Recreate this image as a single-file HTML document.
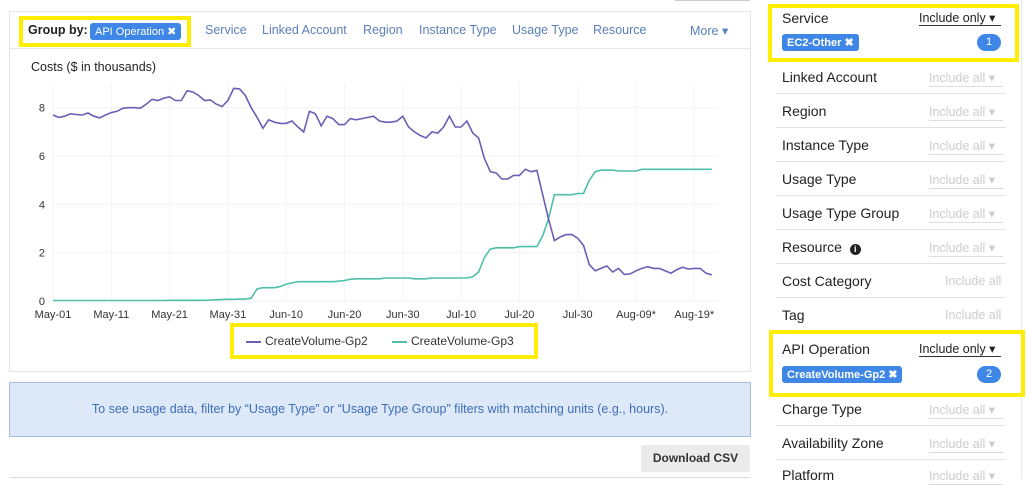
<!DOCTYPE html>
<html><head><meta charset="utf-8">
<style>
*{box-sizing:border-box}
body{margin:0;width:1027px;height:479px;overflow:hidden;background:#fff;font-family:"Liberation Sans",sans-serif;position:relative}
.abs{position:absolute}
.yel{position:absolute;border:4px solid #ffee00}
.tab{position:absolute;top:23px;font-size:12.5px;color:#5b7fb8}
.rl{position:absolute;left:782px;font-size:14px;color:#222}
.inc{position:absolute;left:929px;width:74px;font-size:12.5px;color:#ccc;border-bottom:1px solid #ddd;padding-bottom:1px}
.sep{position:absolute;left:776px;width:230px;height:1px;background:#e2e2e2}
.chip{position:absolute;background:#3f87e6;color:#fff;font-size:11px;border-radius:3px;padding:2px 5px;font-weight:bold}
.badge{position:absolute;left:977px;width:24px;height:17px;border-radius:9px;background:#3f87e6;color:#fff;font-size:11px;text-align:center;line-height:17px}
</style></head><body>
<div class="abs" style="left:675px;top:-4px;width:75px;height:5px;background:#eee;border:1px solid #ccc"></div>
<div class="abs" style="left:9px;top:11px;width:742px;height:361px;border:1px solid #e3e3e3"></div>
<div class="abs" style="left:10px;top:48px;width:740px;height:1px;background:#e8e8e8"></div>
<div class="yel" style="left:19px;top:16px;width:172px;height:31px"></div>
<div class="abs" style="left:28px;top:23px;font-size:12.5px;font-weight:bold;color:#222">Group by:</div>
<div class="chip" style="left:90px;top:23px;font-weight:normal;font-size:11px">API Operation ✖</div>
<div class="tab" style="left:205px">Service</div>
<div class="tab" style="left:262px">Linked Account</div>
<div class="tab" style="left:363px">Region</div>
<div class="tab" style="left:419px">Instance Type</div>
<div class="tab" style="left:512px">Usage Type</div>
<div class="tab" style="left:593px">Resource</div>
<div class="tab" style="left:690px">More ▾</div>
<div class="abs" style="left:31px;top:60px;font-size:12.5px;color:#222">Costs ($ in thousands)</div>

<svg class="abs" style="left:0;top:0" width="760" height="330">
<g id="grid"></g><g id="lines"></g><g id="labels" font-family="Liberation Sans" font-size="11" fill="#333"></g>
</svg>

<div class="yel" style="left:230px;top:323px;width:308px;height:36px"></div>
<div class="abs" style="left:246px;top:334px;font-size:12px;color:#333"><span style="display:inline-block;width:15px;height:2px;background:#6b5fb5;vertical-align:middle;margin-right:4px"></span>CreateVolume-Gp2</div>
<div class="abs" style="left:392px;top:334px;font-size:12px;color:#333"><span style="display:inline-block;width:15px;height:2px;background:#4fc0a8;vertical-align:middle;margin-right:4px"></span>CreateVolume-Gp3</div>

<div class="abs" style="left:9px;top:382px;width:742px;height:55px;background:#dde8f9;border:1px solid #a9bfe0;font-size:12.5px;color:#3e6fb5;text-align:center;line-height:53px">To see usage data, filter by “Usage Type” or “Usage Type Group” filters with matching units (e.g., hours).</div>
<div class="abs" style="left:641px;top:445px;width:109px;height:27px;background:#ebebeb;border-radius:2px;font-size:12px;font-weight:bold;color:#333;text-align:center;line-height:26px">Download CSV</div>
<div class="abs" style="left:10px;top:477px;width:740px;height:1px;background:#ddd"></div>

<div class="abs" style="left:1021px;top:0;width:1px;height:479px;background:#e8e8e8"></div>
<div class="yel" style="left:768px;top:4px;width:251px;height:58px"></div>
<div class="rl" style="top:10px">Service</div>
<div class="abs" style="left:919px;top:10px;font-size:12.5px;color:#222;border-bottom:1px solid #333;width:82px">Include only ▾</div>
<div class="chip" style="left:782px;top:34px">EC2-Other ✖</div>
<div class="badge" style="top:34px">1</div>
<div id="rows"></div>
<div class="yel" style="left:769px;top:330px;width:256px;height:67px"></div>
<div class="rl" style="top:341px">API Operation</div>
<div class="abs" style="left:919px;top:341px;font-size:12.5px;color:#222;border-bottom:1px solid #333;width:82px">Include only ▾</div>
<div class="chip" style="left:782px;top:366px">CreateVolume-Gp2 ✖</div>
<div class="badge" style="top:366px">2</div>

<script>
const xTickLabels=["May-01","May-11","May-21","May-31","Jun-10","Jun-20","Jun-30","Jul-10","Jul-20","Jul-30","Aug-09*","Aug-19*"];
const yTicks=[0,2,4,6,8];
const gp2=[7.7,7.6,7.65,7.75,7.72,7.7,7.78,7.65,7.58,7.7,7.8,7.85,7.98,8.0,8.0,7.98,8.15,8.35,8.3,8.4,8.45,8.3,8.3,8.7,8.65,8.5,8.3,8.32,8.15,8.05,8.3,8.8,8.78,8.5,8.0,7.6,7.15,7.5,7.4,7.35,7.35,7.45,7.2,7.0,7.85,7.75,7.25,7.65,7.55,7.3,7.3,7.55,7.5,7.55,7.6,7.65,7.45,7.4,7.4,7.45,7.65,7.2,7.0,6.85,6.75,7.0,6.95,7.2,7.65,7.2,7.2,7.45,6.95,6.75,5.9,5.35,5.3,5.05,5.05,5.2,5.2,5.45,5.35,5.4,4.4,3.4,2.5,2.65,2.75,2.75,2.6,2.3,1.5,1.25,1.35,1.45,1.2,1.35,1.1,1.12,1.25,1.35,1.42,1.35,1.35,1.25,1.15,1.3,1.4,1.32,1.35,1.35,1.15,1.08];
const gp3=[0.02,0.02,0.02,0.02,0.02,0.02,0.02,0.02,0.02,0.02,0.02,0.02,0.02,0.02,0.02,0.02,0.02,0.02,0.02,0.02,0.03,0.03,0.03,0.03,0.03,0.03,0.03,0.04,0.05,0.06,0.07,0.07,0.08,0.08,0.12,0.5,0.55,0.55,0.55,0.6,0.7,0.75,0.8,0.8,0.8,0.8,0.8,0.8,0.8,0.82,0.85,0.9,0.92,0.92,0.92,0.92,0.92,0.95,0.95,0.95,0.95,0.95,0.92,0.92,0.92,0.95,0.95,0.95,0.95,0.95,0.95,0.95,1.0,1.2,1.8,2.15,2.2,2.2,2.2,2.2,2.25,2.25,2.25,2.25,2.7,3.4,4.4,4.4,4.4,4.4,4.45,4.45,5.0,5.35,5.42,5.42,5.42,5.38,5.38,5.38,5.38,5.45,5.45,5.45,5.45,5.45,5.45,5.45,5.45,5.45,5.45,5.45,5.45,5.45];
const NS="http://www.w3.org/2000/svg";
const xs=d=>53+d*5.83;
const ys=v=>301-v*24.16;
const grid=document.getElementById('grid'),lines=document.getElementById('lines'),labels=document.getElementById('labels');
yTicks.forEach(v=>{
 const l=document.createElementNS(NS,'line');
 
 
 l.setAttribute('x1',53);l.setAttribute('x2',718);l.setAttribute('y1',ys(v));l.setAttribute('y2',ys(v));l.setAttribute('stroke','#f2f2f2');grid.appendChild(l);
 const t=document.createElementNS(NS,'text');
 
 
 t.setAttribute('x',45);t.setAttribute('y',ys(v)+4);t.setAttribute('text-anchor','end');t.textContent=v;labels.appendChild(t);
});
xTickLabels.forEach((s,i)=>{
 const x=xs(i*10);
 const l=document.createElementNS(NS,'line');
 
 
 l.setAttribute('x1',x);l.setAttribute('x2',x);l.setAttribute('y1',84);l.setAttribute('y2',301);l.setAttribute('stroke','#f4f4f4');grid.appendChild(l);
 const t=document.createElementNS(NS,'text');
 
 
 t.setAttribute('x',x);t.setAttribute('y',318);t.setAttribute('text-anchor','middle');t.textContent=s;labels.appendChild(t);
});
function drawLine(arr,color,name){
 const p=document.createElementNS(NS,'polyline');
 
 
 p.setAttribute('points',arr.map((v,i)=>xs(i).toFixed(1)+','+ys(v).toFixed(1)).join(' '));
 p.setAttribute('fill','none');p.setAttribute('stroke',color);p.setAttribute('stroke-width','1.6');lines.appendChild(p);
}
drawLine(gp3,'#4fc0a8','line-createvolume-gp3');
drawLine(gp2,'#6b5fb5','line-createvolume-gp2');

const rowNames=[["Linked Account",77,1],["Region",111,1],["Instance Type",145,1],["Usage Type",179,1],["Usage Type Group",213,1],["Resource",247,1],["Cost Category",281,0],["Tag",315,0],["Charge Type",409,1],["Availability Zone",443,1],["Platform",475,1]];
const rows=document.getElementById('rows');
rowNames.forEach(r=>{
 const slug=r[0].toLowerCase().replace(/ /g,'-');
 const l=document.createElement('div');
 
 
 l.className='rl';l.style.top=(r[1]-8)+'px';l.textContent=r[0];
 if(r[0]==='Resource'){l.innerHTML='Resource &nbsp;<span style="display:inline-block;width:11px;height:11px;border-radius:6px;background:#222;color:#fff;font-size:9px;text-align:center;line-height:11px;font-weight:bold">i</span>';}
 rows.appendChild(l);
 const d=document.createElement('div');
 
 
 d.className='inc';d.style.top=(r[1]-7)+'px';
 if(r[2]){d.textContent='Include all ▾';}else{d.textContent='Include all';d.style.borderBottom='none';d.style.left='945px';d.style.width='60px';}
 rows.appendChild(d);
 if(r[0]!=='Platform'){
 const s=document.createElement('div');
 
 
 s.className='sep';s.style.top=(r[1]+16)+'px';rows.appendChild(s);}
});
</script>
</body></html>
